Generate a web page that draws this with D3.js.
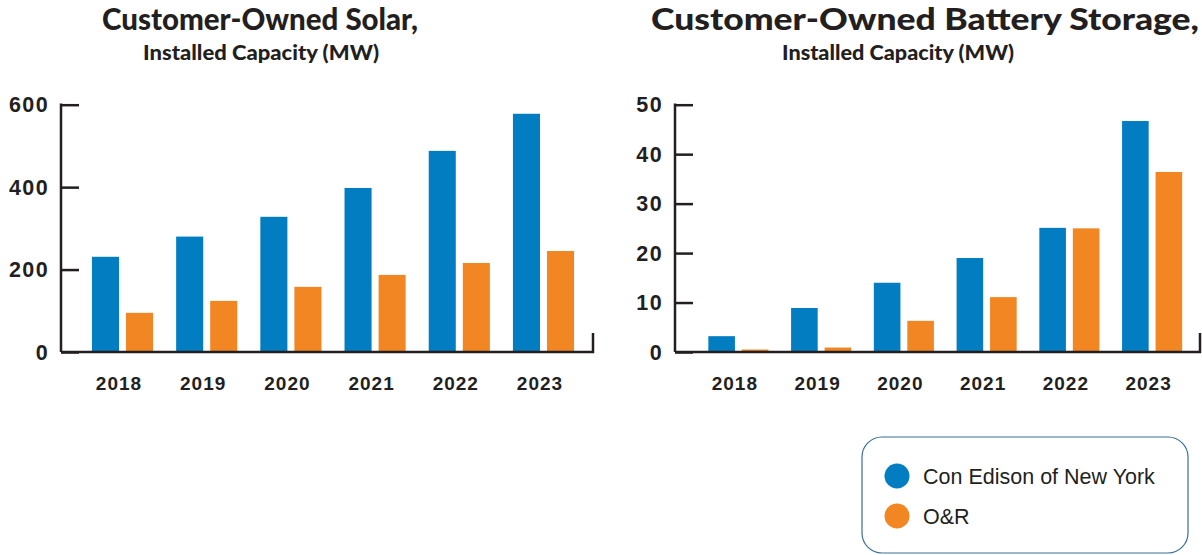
<!DOCTYPE html>
<html>
<head>
<meta charset="utf-8">
<script src="https://cdn.jsdelivr.net/npm/d3@7"></script>
<style>
  body { margin: 0; background: #fff; }
  text { fill: #231f20; }
</style>
</head>
<body>
<div id="chart"></div>
<script>
const years = ["2018", "2019", "2020", "2021", "2022", "2023"];
const seriesNames = ["Con Edison of New York", "O&R"];

const solarConEd = [231, 280, 328, 398, 488, 578];
const solarOR = [95, 124, 158, 187, 216, 245];
const solarTicks = [0, 200, 400, 600];

const batteryConEd = [3.2, 8.9, 14, 19, 25.1, 46.7];
const batteryOR = [0.5, 0.9, 6.3, 11.1, 25, 36.4];
const batteryTicks = [0, 10, 20, 30, 40, 50];

const colors = ["#027dc1", "#f18623"];
const ink = "#231f20";

const width = 1202, height = 555;

const svg = d3.select("#chart").append("svg")
    .attr("width", width)
    .attr("height", height);

function drawPanel(opts) {
    const rows = years.map((yr, i) => ({ year: yr, values: [opts.a[i], opts.b[i]] }));

    const x = d3.scaleBand().domain(years)
        .range([opts.x0, opts.x1])
        .paddingInner(0.274).paddingOuter(0.137);
    const xs = d3.scaleBand().domain([0, 1])
        .range([0, x.bandwidth()])
        .paddingInner(0.206);
    const y = d3.scaleLinear().domain([0, opts.max]).range([352, 104.7]);

    const g = svg.append("g");

    // titles (stretched to the width of the original heading font)
    g.append("text")
        .attr("x", opts.titleX).attr("y", 30)
        .attr("text-anchor", "middle")
        .attr("textLength", opts.titleW)
        .attr("lengthAdjust", "spacingAndGlyphs")
        .style("font-family", "Lato, 'DejaVu Sans', sans-serif")
        .style("font-weight", 900)
        .style("font-size", "30px")
        .text(opts.title);
    g.append("text")
        .attr("x", opts.subX).attr("y", 60)
        .attr("text-anchor", "middle")
        .attr("textLength", opts.subW)
        .attr("lengthAdjust", "spacingAndGlyphs")
        .style("font-family", "Lato, 'DejaVu Sans', sans-serif")
        .style("font-weight", 900)
        .style("font-size", "20.5px")
        .text("Installed Capacity (MW)");

    // bars
    g.selectAll("g.year").data(rows).join("g")
        .attr("class", "year")
        .attr("transform", d => `translate(${x(d.year)},0)`)
        .selectAll("rect").data(d => d.values).join("rect")
        .attr("x", (d, i) => xs(i))
        .attr("width", xs.bandwidth())
        .attr("y", d => y(d))
        .attr("height", d => y(0) - y(d))
        .attr("fill", (d, i) => colors[i]);

    // y axis
    const yAxis = g.append("g")
        .attr("transform", `translate(${opts.axisX},0)`)
        .call(d3.axisRight(y).tickValues(opts.ticks).tickSize(18).tickFormat(""));
    yAxis.select(".domain").remove();
    yAxis.selectAll(".tick line").attr("stroke", ink).attr("stroke-width", 2.5);
    yAxis.append("line")
        .attr("x1", 0).attr("x2", 0)
        .attr("y1", y(opts.max) - 1.2).attr("y2", y(0))
        .attr("stroke", ink).attr("stroke-width", 2.5);

    g.selectAll("text.ylab").data(opts.ticks).join("text")
        .attr("class", "ylab")
        .attr("x", opts.axisX - 12)
        .attr("y", d => y(d))
        .attr("dy", "0.36em")
        .attr("text-anchor", "end")
        .style("font-family", "'Liberation Sans', Arial, sans-serif")
        .style("font-weight", "bold")
        .style("font-size", "21.5px")
        .style("letter-spacing", "1.4px")
        .text(d => d);

    // baseline with end tick
    g.append("path")
        .attr("d", `M${opts.axisX},${y(0)}H${opts.endX}V${y(0) - 19}`)
        .attr("fill", "none")
        .attr("stroke", ink)
        .attr("stroke-width", 2.5);

    // year labels
    g.selectAll("text.xlab").data(years).join("text")
        .attr("class", "xlab")
        .attr("x", d => x(d) + x.bandwidth() / 2 - 3.5)
        .attr("y", 390)
        .attr("text-anchor", "middle")
        .style("font-family", "'Liberation Sans', Arial, sans-serif")
        .style("font-weight", "bold")
        .style("font-size", "19px")
        .style("letter-spacing", "1px")
        .text(d => d);
}

drawPanel({
    title: "Customer-Owned Solar,",
    titleX: 260, subX: 261, titleW: 316, subW: 236,
    a: solarConEd, b: solarOR, max: 600, ticks: solarTicks,
    x0: 80.4, x1: 585.6, axisX: 61, endX: 593
});

drawPanel({
    title: "Customer-Owned Battery Storage,",
    titleX: 925, subX: 898, titleW: 548, subW: 232,
    a: batteryConEd, b: batteryOR, max: 50, ticks: batteryTicks,
    x0: 697, x1: 1193.5, axisX: 675, endX: 1200
});

// legend
const legend = svg.append("g");
legend.append("rect")
    .attr("x", 862).attr("y", 437)
    .attr("width", 326).attr("height", 116)
    .attr("rx", 20).attr("ry", 20)
    .attr("fill", "#fff")
    .attr("stroke", "#3b6e95")
    .attr("stroke-width", 1.2);

const items = legend.selectAll("g.item").data(seriesNames).join("g")
    .attr("class", "item")
    .attr("transform", (d, i) => `translate(897,${476 + i * 40})`);
items.append("circle")
    .attr("r", 12.5)
    .attr("fill", (d, i) => colors[i]);
items.append("text")
    .attr("x", 26)
    .attr("dy", "0.36em")
    .style("font-family", "'Liberation Sans', Arial, sans-serif")
    .style("font-size", "21.5px")
    .text(d => d);
</script>
</body>
</html>
